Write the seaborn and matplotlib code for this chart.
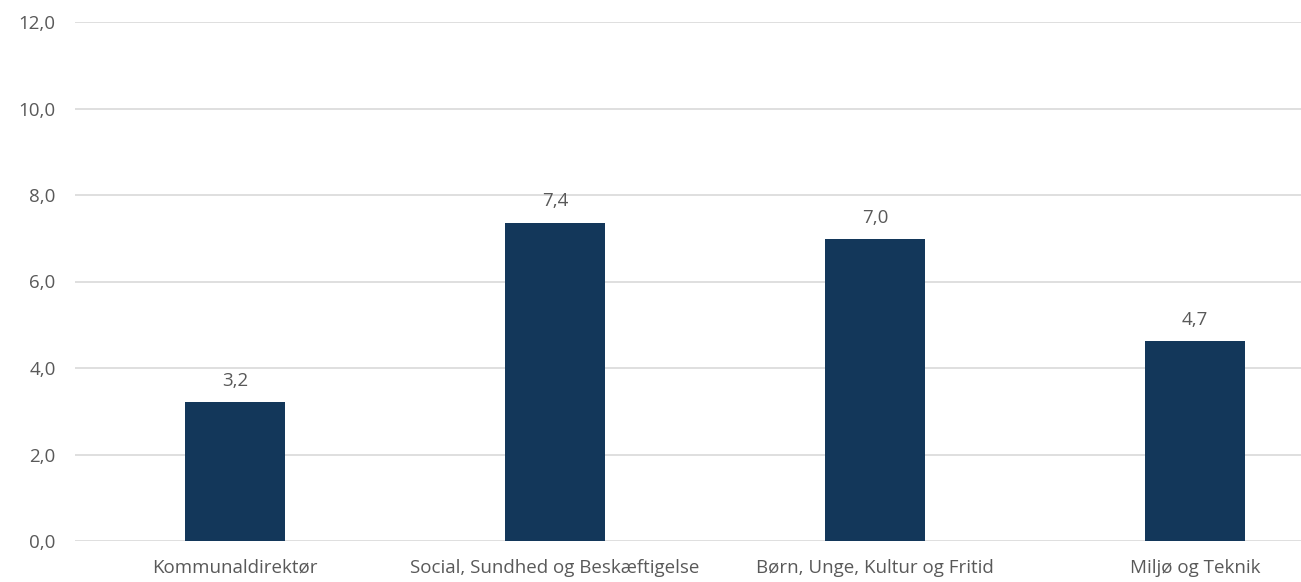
import matplotlib
matplotlib.use('Agg')
import matplotlib.pyplot as plt
import seaborn as sns
import pandas as pd

# Data
categories = ['Kommunaldirektør', 'Social, Sundhed og Beskæftigelse',
              'Børn, Unge, Kultur og Fritid', 'Miljø og Teknik']
values = [3.21, 7.36, 6.98, 4.62]
bar_labels = ['3,2', '7,4', '7,0', '4,7']
yticks = [0, 2, 4, 6, 8, 10, 12]

df = pd.DataFrame({'kategori': categories, 'værdi': values})

sns.set_theme(style='white')
plt.rcParams['font.family'] = ['Open Sans', 'DejaVu Sans']

W, H = 1301, 582
fig = plt.figure(figsize=(W / 100, H / 100), dpi=100)
ax = fig.add_axes([75 / W, 41 / H, 1226 / W, 519 / H])

bar_color = '#13375a'
text_color = '#595959'

sns.barplot(data=df, x='kategori', y='værdi', color=bar_color,
            width=0.3125, saturation=1, linewidth=0, ax=ax, zorder=3)

ax.set_ylim(0, 12)
ax.set_xlim(-0.5, (W - 75) / 320 - 0.5)
ax.set_yticks(yticks)
ax.set_yticklabels([f'{t:.1f}'.replace('.', ',') for t in yticks])
ax.grid(axis='y', color='#d9d9d9', linewidth=1.2, zorder=0)
ax.set_axisbelow(True)
for s in ax.spines.values():
    s.set_visible(False)
ax.set_xlabel('')
ax.set_ylabel('')
ax.tick_params(axis='y', length=0, pad=14, labelsize=13.5, labelcolor=text_color)
ax.tick_params(axis='x', length=0, pad=13, labelsize=13.5, labelcolor=text_color)

for i, (v, lab) in enumerate(zip(values, bar_labels)):
    ax.annotate(lab, (i, v), xytext=(0, 9), textcoords='offset points',
                ha='center', va='bottom', fontsize=13.5, color=text_color)

fig.savefig('out.png', dpi=100)
